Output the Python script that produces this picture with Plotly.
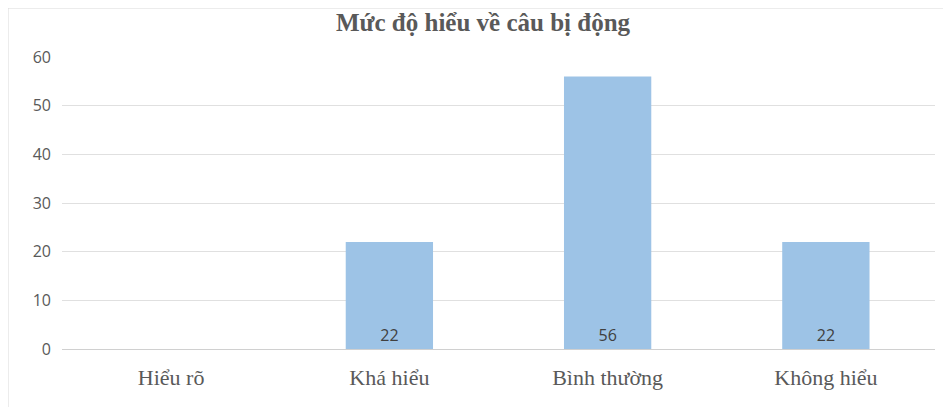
import plotly.graph_objects as go

categories = ["Hiểu rõ", "Khá hiểu", "Bình thường", "Không hiểu"]
values = [0, 22, 56, 22]
labels = ["", "22", "56", "22"]
y_ticks = [0, 10, 20, 30, 40, 50, 60]
title = "Mức độ hiểu về câu bị động"

fig = go.Figure(go.Bar(
    x=categories, y=values, text=labels,
    textposition="inside", insidetextanchor="start",
    textfont=dict(family="Open Sans", size=16, color="#404040"),
    marker=dict(color="#9DC3E6", line=dict(width=0)),
    width=0.4, cliponaxis=False,
))

fig.update_layout(
    width=951, height=407,
    margin=dict(l=54, r=24, t=49, b=66, autoexpand=False),
    paper_bgcolor="white", plot_bgcolor="white",
    title=dict(text="<b>" + title + "</b>", x=475/951, xanchor="center",
               y=1 - 14/407, yanchor="middle",
               font=dict(family="Liberation Serif", size=25, color="#595959")),
    showlegend=False,
    uniformtext=dict(mode=False),
)
fig.update_xaxes(
    showgrid=False, showline=True, linecolor="#D0D0D0", linewidth=1,
    ticks="", tickfont=dict(family="Liberation Serif", size=22, color="#595959"),
    ticklabelstandoff=9,
)
fig.update_yaxes(
    range=[0, 60], tickvals=y_ticks, showgrid=True, gridcolor="#E0E0E0", gridwidth=1,
    zeroline=False, showline=False, ticks="",
    tickfont=dict(family="Open Sans", size=16, color="#595959"),
    ticklabelstandoff=10,
)
fig.add_shape(type="rect", xref="paper", yref="paper",
              x0=-54/873, x1=1.05, y0=-0.3, y1=341/292,
              line=dict(color="#D9D9D9", width=1), fillcolor="rgba(0,0,0,0)", layer="below")
fig.write_html("out.html")
